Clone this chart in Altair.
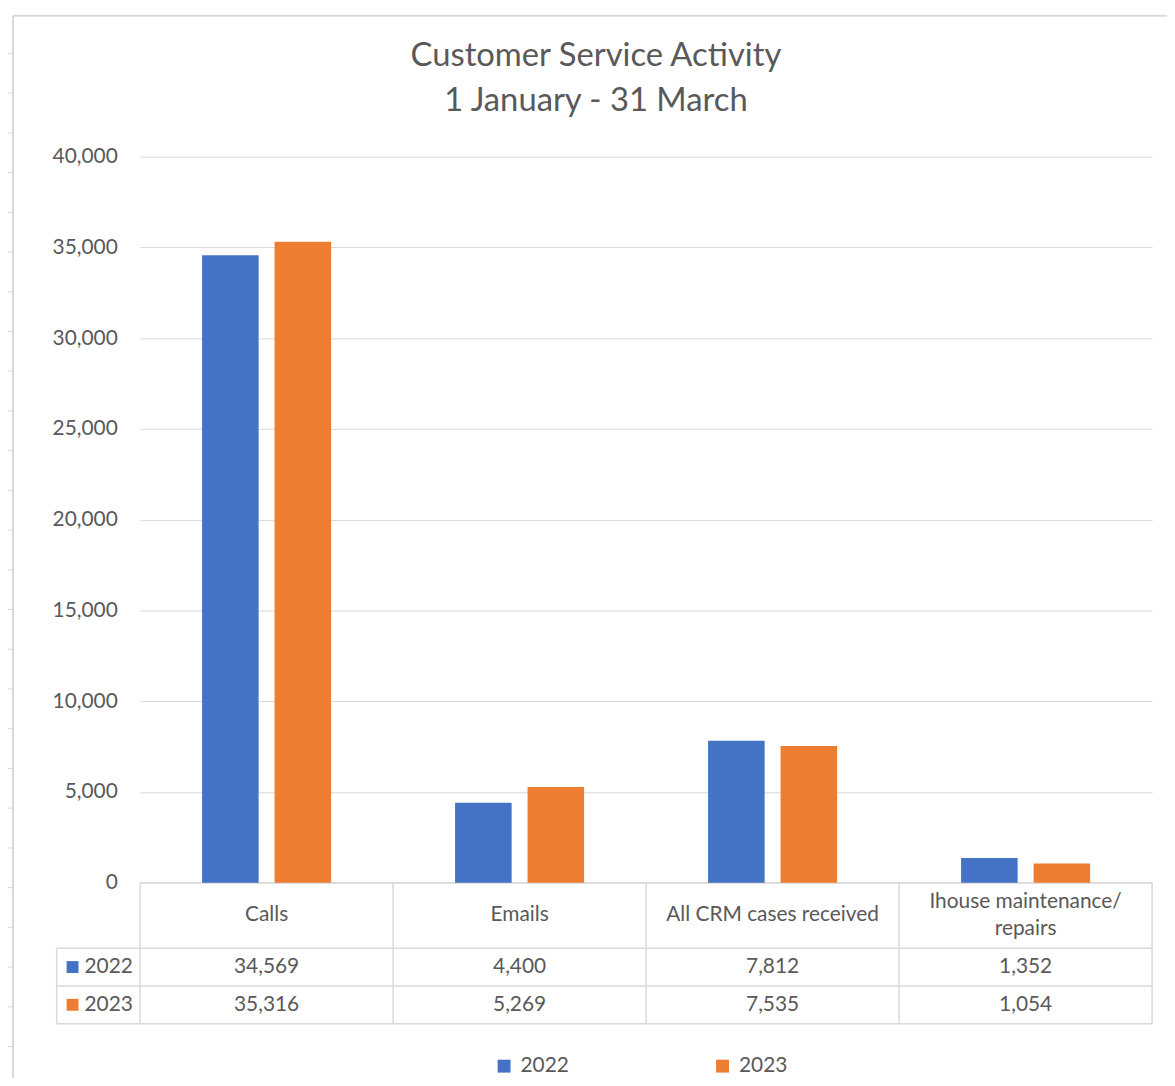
import altair as alt
import pandas as pd

# ---------------- data ----------------
categories = ["Calls", "Emails", "All CRM cases received", "Ihouse maintenance/repairs"]
header_labels = ["Calls", "Emails", "All CRM cases received", "Ihouse maintenance/\nrepairs"]
years = ["2022", "2023"]
values_2022 = [34569, 4400, 7812, 1352]
values_2023 = [35316, 5269, 7535, 1054]
y_ticks = [0, 5000, 10000, 15000, 20000, 25000, 30000, 35000, 40000]
title_lines = ["Customer Service Activity", "1 January - 31 March"]
colors = ["#4472C4", "#ED7D31"]

# ---------------- layout ----------------
FONT = "Lato"
GRAY = "#595959"
LINE = "#d9d9d9"
W, H = 1019, 731          # plot area
PAD_L, PAD_T = 133, 146   # plot origin inside the svg
ROW_TOP = H               # table top (zero line)
HDR_BOTTOM = H + 66
ROW1_BOTTOM = H + 104
ROW2_BOTTOM = H + 142
TABLE_LEFT = -84
ROW_Y = [(HDR_BOTTOM + ROW1_BOTTOM) / 2, (ROW1_BOTTOM + ROW2_BOTTOM) / 2]
HDR_Y = (ROW_TOP + HDR_BOTTOM) / 2
HDR_LH = 27

rows = []
for yr, vals in zip(years, [values_2022, values_2023]):
    for c, v in zip(categories, vals):
        rows.append({"category": c, "year": yr, "value": v})
df = pd.DataFrame(rows)
hdr = pd.DataFrame({"category": categories, "label": header_labels})
hdr["lines"] = hdr["label"].str.count("\n") + 1
one = pd.DataFrame({"a": [0]})

x_enc = alt.X(
    "category:N",
    scale=alt.Scale(domain=categories, paddingInner=0.49, paddingOuter=0.245),
    axis=None,
)
color_enc = alt.Color(
    "year:N",
    scale=alt.Scale(domain=years, range=colors),
    legend=alt.Legend(
        orient="none", legendX=356, legendY=905, direction="horizontal",
        title=None, symbolType="square", symbolSize=169, symbolStrokeWidth=0,
        labelFontSize=21, labelFont=FONT, labelColor=GRAY, labelOffset=6,
        columnPadding=144, padding=0,
    ),
)

bars = alt.Chart(df).mark_bar().encode(
    x=x_enc,
    xOffset=alt.XOffset("year:N", scale=alt.Scale(domain=years, paddingInner=0.22, paddingOuter=0)),
    y=alt.Y(
        "value:Q",
        scale=alt.Scale(domain=[0, 40000], nice=False),
        axis=alt.Axis(
            values=y_ticks, format=",d", title=None, ticks=False, domain=False,
            grid=True, gridColor=LINE, gridWidth=1, labelPadding=23,
            labelFont=FONT, labelFontSize=21, labelColor=GRAY,
        ),
    ),
    color=color_enc,
)


def rule(x1, x2, y1, y2, color=LINE, width=1.5):
    return alt.Chart(one).mark_rule(color=color, strokeWidth=width).encode(
        x=alt.value(x1), x2=alt.value(x2), y=alt.value(y1), y2=alt.value(y2)
    )


layers = []

# outer frame of the screenshot (worksheet edges)
FRAME_X = -128
FRAME_Y = -142
layers.append(rule(FRAME_X, 1100, FRAME_Y, FRAME_Y, width=2))
layers.append(rule(FRAME_X, FRAME_X, FRAME_Y, 1000, width=2))
for k in range(26):
    ty = -104 + 40 * k
    layers.append(rule(-134, FRAME_X, ty, ty, width=1))

# table grid
layers.append(rule(0, W, ROW_TOP, ROW_TOP))
for yy in [HDR_BOTTOM, ROW1_BOTTOM, ROW2_BOTTOM]:
    layers.append(rule(TABLE_LEFT, W, yy, yy))
step = W / len(categories)
for k in range(len(categories) + 1):
    layers.append(rule(k * step, k * step, ROW_TOP, ROW2_BOTTOM))
layers.append(rule(TABLE_LEFT, TABLE_LEFT, HDR_BOTTOM, ROW2_BOTTOM))

layers.append(bars)

# header labels (single and two-line)
for n in sorted(hdr["lines"].unique()):
    sub = hdr[hdr["lines"] == n]
    layers.append(
        alt.Chart(sub).mark_text(
            font=FONT, fontSize=21, color=GRAY, baseline="middle", lineBreak="\n", lineHeight=HDR_LH
        ).encode(x=x_enc, y=alt.value(HDR_Y - (n - 1) * HDR_LH / 2), text="label:N")
    )

# value rows
for i, yr in enumerate(years):
    sub = df[df["year"] == yr]
    layers.append(
        alt.Chart(sub).mark_text(font=FONT, fontSize=21, color=GRAY, baseline="middle").encode(
            x=x_enc, y=alt.value(ROW_Y[i]), text=alt.Text("value:Q", format=",d")
        )
    )
    ydf = pd.DataFrame({"year": [yr]})
    layers.append(
        alt.Chart(ydf).mark_square(size=144, opacity=1).encode(
            x=alt.value(TABLE_LEFT + 16), y=alt.value(ROW_Y[i]), color=color_enc
        )
    )
    layers.append(
        alt.Chart(ydf).mark_text(font=FONT, fontSize=21, color=GRAY, align="left", baseline="middle").encode(
            x=alt.value(TABLE_LEFT + 28), y=alt.value(ROW_Y[i]), text="year:N"
        )
    )

# title
for i, t in enumerate(title_lines):
    layers.append(
        alt.Chart(pd.DataFrame({"t": [t]})).mark_text(
            font=FONT, fontSize=33, color=GRAY, align="center", baseline="middle"
        ).encode(x=alt.value(459), y=alt.value([-101, -56][i]), text="t:N")
    )

chart = (
    alt.layer(*layers)
    .properties(
        width=W, height=H,
        autosize=alt.AutoSizeParams(type="none"),
        padding={"left": PAD_L, "top": PAD_T, "right": 15, "bottom": 193},
        background="white",
    )
    .configure_view(stroke=None)
)

chart.save("out.html", embed_options={"renderer": "svg", "actions": False})
